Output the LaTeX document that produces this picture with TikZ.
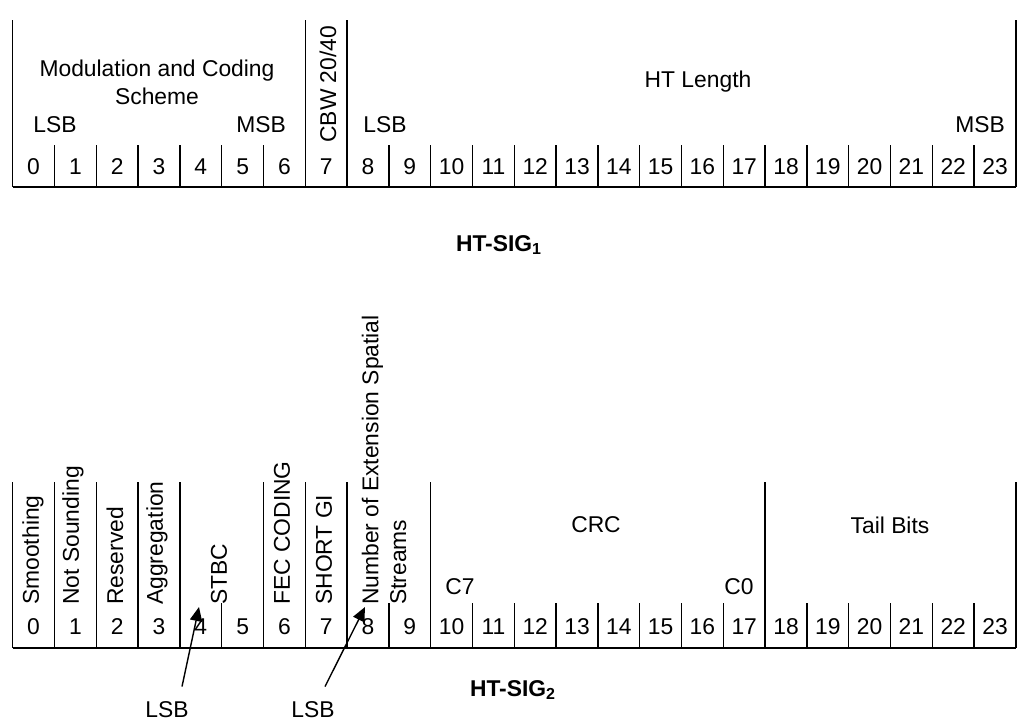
\documentclass[tikz,border=0pt]{standalone}
\usepackage{fontspec}
\setmainfont{Liberation Sans}
\usetikzlibrary{arrows.meta}
\tikzset{
  field/.style={font=\fontsize{13}{15.8}\selectfont, inner sep=0pt, align=center},
  fieldup/.style={field, rotate=90, anchor=west, align=left},
  bitnum/.style={field},
  sigtitle/.style={font=\fontsize{13}{15.8}\selectfont\bfseries, inner sep=0pt},
  tall/.style={line width=0.8pt},
  short/.style={line width=0.8pt},
  base/.style={line width=1.1pt},
  lsbarrow/.style={-{Triangle[length=8pt,width=7pt]}, line width=0.8pt},
}
\def\xo{12.7}
\def\cw{41.8}
\def\yT{20}   % top of tall lines, HT-SIG1
\def\yS{145}  % top of short lines, HT-SIG1
\def\yB{187}  % base line, HT-SIG1
\def\yTT{482} % top of tall lines, HT-SIG2
\def\ySS{603} % top of short lines, HT-SIG2
\def\yBB{648} % base line, HT-SIG2

\begin{document}
\begin{tikzpicture}[x=0.02cm, y=-0.02cm]
  \useasboundingbox (0,0) rectangle (1024,725);
  % HT-SIG1
  \foreach \i in {0,7,8,24} \draw[tall] (\xo+\cw*\i,\yT) -- (\xo+\cw*\i,\yB);
  \foreach \i in {1,...,6} \draw[short] (\xo+\cw*\i,\yS) -- (\xo+\cw*\i,\yB);
  \foreach \i in {9,...,23} \draw[short] (\xo+\cw*\i,\yS) -- (\xo+\cw*\i,\yB);
  \draw[base] (\xo,\yB) -- (\xo+\cw*24,\yB);
  \foreach \i in {0,...,23} \node[bitnum] (ta\i) at (\xo+\cw*\i+\cw/2,167) {\i};
  \node[field] (mcs) at (157,82) {Modulation and Coding\\Scheme};
  \node[field] (mcslsb) at (55,125) {LSB};
  \node[field] (mcsmsb) at (261,125) {MSB};
  \node[fieldup] (cbw) at (328,143) {CBW 20/40};
  \node[field] (htlen) at (698,82) {HT Length};
  \node[field] (htlsb) at (385,125) {LSB};
  \node[field] (htmsb) at (980,125) {MSB};
  \node[sigtitle] (sig1) at (499,245) {HT-SIG\textsubscript{1}};
  % HT-SIG2
  \foreach \i in {0,1,2,3,4,6,7,8,10,18,24} \draw[tall] (\xo+\cw*\i,\yTT) -- (\xo+\cw*\i,\yBB);
  \foreach \i in {5,9,11,12,13,14,15,16,17,19,20,21,22,23} \draw[short] (\xo+\cw*\i,\ySS) -- (\xo+\cw*\i,\yBB);
  \draw[base] (\xo,\yBB) -- (\xo+\cw*24,\yBB);
  \foreach \i in {0,...,23} \node[bitnum] (tb\i) at (\xo+\cw*\i+\cw/2,627) {\i};
  \node[fieldup] (smooth) at (33,605) {Smoothing};
  \node[fieldup] (notsnd) at (73,605) {Not Sounding};
  \node[fieldup] (resv) at (115,605) {Reserved};
  \node[fieldup] (aggr) at (157,605) {Aggregation};
  \node[fieldup] (stbc) at (219,605) {STBC};
  \node[fieldup] (fec) at (282,605) {FEC CODING};
  \node[fieldup] (sgi) at (324,605) {SHORT GI};
  \node[fieldup] (ness) at (384,605) {Number of Extension Spatial\\Streams};
  \node[field] (crc) at (596,525) {CRC};
  \node[field] (tail) at (890,525) {Tail Bits};
  \node[field] (crcmsb) at (460,587) {C7};
  \node[field] (crclsb) at (739,587) {C0};
  \node[sigtitle] (sig2) at (513,690) {HT-SIG\textsubscript{2}};
  \node[field] (lsbA) at (167,710) {LSB};
  \node[field] (lsbB) at (313,710) {LSB};
  \coordinate (stbcbit) at (199,607);
  \coordinate (nessbit) at (365,607);
  \draw[lsbarrow] ([shift={(15,-15)}]lsbA.north) -- (stbcbit);
  \draw[lsbarrow] ([shift={(12,-15)}]lsbB.north) -- (nessbit);
\end{tikzpicture}
\end{document}
